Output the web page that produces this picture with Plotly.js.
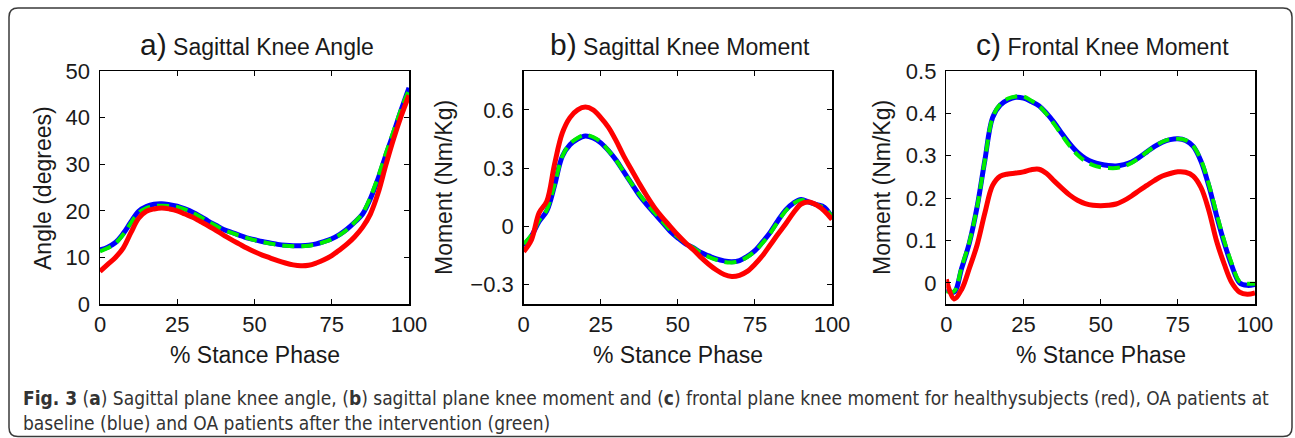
<!DOCTYPE html>
<html>
<head>
<meta charset="utf-8">
<script src="https://cdn.plot.ly/plotly-3.0.1.min.js"></script>
<style>
html,body{margin:0;padding:0;background:#fff;}
#chart{width:1295px;height:438px;}
</style>
</head>
<body>
<div id="chart"></div>
<script>
// ---------- data ----------
const stance = [0,2.5,5,7.5,10,12.5,15,17.5,20,22.5,25,27.5,30,32.5,35,37.5,40,42.5,45,47.5,50,
                52.5,55,57.5,60,62.5,65,67.5,70,72.5,75,77.5,80,82.5,85,87.5,90,92.5,95,97.5,100];

// a) Sagittal knee angle (degrees)
const angleHealthy = [7.0,8.5,10.0,12.0,15.3,18.4,19.9,20.4,20.6,20.4,20.0,19.3,18.6,17.7,16.8,15.8,14.8,13.8,12.9,12.0,11.2,
                      10.5,9.9,9.3,8.8,8.4,8.2,8.3,8.8,9.5,10.4,11.6,12.9,14.5,16.5,19.3,23.8,29.8,35.4,40.4,44.8];
const angleBaseline = [11.6,12.2,13.2,15.1,17.6,19.9,20.9,21.4,21.5,21.3,21.0,20.4,19.7,18.8,17.8,16.9,16.0,15.4,14.8,14.2,13.8,
                       13.4,13.1,12.8,12.6,12.5,12.5,12.6,12.9,13.4,14.0,14.9,16.1,17.6,19.3,22.6,26.9,31.9,36.7,41.7,46.4];
const angleAfter = [11.3,12.0,13.0,14.9,17.4,19.6,20.6,21.0,21.1,21.0,20.8,20.3,19.6,18.7,17.7,16.8,15.9,15.3,14.7,14.2,13.7,
                    13.3,13.0,12.7,12.5,12.4,12.4,12.5,12.8,13.3,13.9,14.8,16.0,17.6,19.5,22.9,27.3,32.3,37.1,41.9,46.0];

// b) Sagittal knee moment (Nm/Kg)
const sagHealthy = [-0.13,-0.07,0.07,0.13,0.32,0.48,0.56,0.60,0.614,0.60,0.56,0.51,0.44,0.36,0.29,0.22,0.155,0.095,0.045,0.0,-0.045,
                    -0.085,-0.12,-0.16,-0.195,-0.225,-0.248,-0.258,-0.252,-0.232,-0.195,-0.15,-0.095,-0.04,0.013,0.07,0.115,0.125,0.11,0.08,0.035];
const sagBaseline = [-0.10,-0.05,0.025,0.08,0.21,0.36,0.42,0.45,0.465,0.455,0.43,0.39,0.34,0.28,0.22,0.16,0.11,0.065,0.02,-0.025,-0.06,
                     -0.09,-0.11,-0.135,-0.152,-0.168,-0.178,-0.182,-0.176,-0.155,-0.125,-0.08,-0.03,0.03,0.085,0.12,0.138,0.125,0.112,0.098,0.045];
const sagAfter = [-0.09,-0.045,0.03,0.085,0.215,0.36,0.425,0.455,0.47,0.46,0.435,0.39,0.34,0.28,0.22,0.165,0.115,0.07,0.025,-0.02,-0.055,
                  -0.085,-0.11,-0.137,-0.157,-0.172,-0.183,-0.186,-0.178,-0.158,-0.128,-0.085,-0.035,0.025,0.08,0.118,0.135,0.125,0.11,0.095,0.048];

// c) Frontal knee moment (Nm/Kg)
const froHealthy = [0.008,-0.038,-0.015,0.035,0.09,0.165,0.23,0.252,0.257,0.259,0.262,0.267,0.268,0.258,0.24,0.223,0.207,0.195,0.187,0.183,0.182,
                    0.183,0.186,0.194,0.205,0.218,0.23,0.242,0.252,0.258,0.262,0.261,0.252,0.225,0.172,0.10,0.045,0.0,-0.022,-0.027,-0.024];
const froBaseline = [-0.016,-0.022,0.035,0.095,0.18,0.29,0.39,0.42,0.432,0.438,0.436,0.428,0.418,0.40,0.378,0.352,0.328,0.308,0.294,0.285,0.28,
                     0.277,0.276,0.279,0.285,0.296,0.309,0.322,0.332,0.338,0.34,0.336,0.322,0.287,0.23,0.16,0.095,0.04,0.0,-0.006,-0.004];
const froAfter = [-0.02,-0.02,0.038,0.097,0.18,0.29,0.39,0.422,0.435,0.44,0.44,0.43,0.418,0.398,0.374,0.348,0.323,0.302,0.287,0.278,0.273,
                  0.271,0.271,0.275,0.283,0.295,0.309,0.322,0.333,0.339,0.34,0.337,0.323,0.29,0.234,0.165,0.1,0.045,0.003,-0.002,-0.002];

const xTicks = [0,25,50,75,100];
const angleTicks = [0,10,20,30,40,50];
const sagTicks = [-0.3,0,0.3,0.6];
const froTicks = [0,0.1,0.2,0.3,0.4,0.5];

const panelLetters = ['a)','b)','c)'];
const panelTitles = ['Sagittal Knee Angle','Sagittal Knee Moment','Frontal Knee Moment'];
const yTitles = ['Angle (degrees)','Moment (Nm/Kg)','Moment (Nm/Kg)'];
const xTitle = '% Stance Phase';
const captionLine1 = '<b>Fig. 3</b> (<b>a</b>) Sagittal plane knee angle, (<b>b</b>) sagittal plane knee moment and (<b>c</b>) frontal plane knee moment for healthysubjects (red), OA patients at';
const captionLine2 = 'baseline (blue) and OA patients after the intervention (green)';

// ---------- layout helpers ----------
const W = 1295, H = 438;
const px = x => x / W;
const py = y => 1 - y / H;
const FONT = 'Liberation Sans, Arial, Helvetica, sans-serif';
const TXT = '#1a1a1a';

const plotTop = 71, plotBottom = 304;
const panels = [
  {x0:100,   x1:409,  yr:[0,50],       yt:angleTicks, ylab:43,  data:[angleBaseline, angleAfter, angleHealthy]},
  {x0:523.7, x1:832,  yr:[-0.4,0.8],   yt:sagTicks,   ylab:444, data:[sagBaseline, sagAfter, sagHealthy]},
  {x0:946.3, x1:1255, yr:[-0.05,0.5],  yt:froTicks,   ylab:882, data:[froBaseline, froAfter, froHealthy]}
];

const traces = [];
const layout = {
  width: W, height: H,
  margin: {l:0, r:0, t:0, b:0},
  paper_bgcolor: '#fff', plot_bgcolor: '#fff',
  showlegend: false,
  font: {family: FONT, color: TXT},
  annotations: [],
  shapes: []
};

const styles = [
  {color:'#0000ff', width:5, dash:'solid'},
  {color:'#00ee00', width:4, dash:'12px,7px'},
  {color:'#ff0000', width:5, dash:'solid'}
];

panels.forEach((p, i) => {
  const xa = i === 0 ? 'xaxis' : 'xaxis' + (i + 1);
  const ya = i === 0 ? 'yaxis' : 'yaxis' + (i + 1);
  const xr = i === 0 ? 'x' : 'x' + (i + 1);
  const yr = i === 0 ? 'y' : 'y' + (i + 1);
  p.data.forEach((vals, k) => {
    traces.push({
      x: stance, y: vals, xaxis: xr, yaxis: yr,
      type: 'scatter', mode: 'lines',
      line: {color: styles[k].color, width: styles[k].width, dash: styles[k].dash, shape: 'spline', smoothing: 1},
      hoverinfo: 'skip'
    });
  });
  const common = {
    showline: true, linecolor: '#000', linewidth: 1.5, mirror: 'ticks',
    ticks: 'inside', ticklen: 5, tickwidth: 1, tickcolor: '#000',
    showgrid: false, zeroline: false, fixedrange: true,
    tickfont: {family: FONT, size: 22, color: TXT}
  };
  layout[xa] = Object.assign({}, common, {
    domain: [px(p.x0), px(p.x1)], range: [0, 100], anchor: yr,
    tickmode: 'array', tickvals: xTicks, ticktext: xTicks.map(String)
  });
  layout[ya] = Object.assign({}, common, {
    domain: [py(plotBottom), py(plotTop)], range: p.yr, anchor: xr,
    tickmode: 'array', tickvals: p.yt, ticklabelstandoff: 4
  });
  const cx = (p.x0 + p.x1) / 2;
  layout.annotations.push({
    xref: 'paper', yref: 'paper', x: px(cx + 2), y: py(44), xanchor: 'center', yanchor: 'middle',
    text: '<span style="font-size:30px">' + panelLetters[i] + '</span> ' + panelTitles[i],
    showarrow: false, font: {family: FONT, size: 23, color: TXT}
  });
  layout.annotations.push({
    xref: 'paper', yref: 'paper', x: px(cx), y: py(355), xanchor: 'center', yanchor: 'middle',
    text: xTitle, showarrow: false, font: {family: FONT, size: 23, color: TXT}
  });
  layout.annotations.push({
    xref: 'paper', yref: 'paper', x: px(p.ylab), y: py(188), xanchor: 'center', yanchor: 'middle',
    text: yTitles[i], textangle: -90, showarrow: false, font: {family: FONT, size: 23, color: TXT}
  });
});

// caption
const CAPFONT = 'DejaVu Sans Condensed, Liberation Sans Narrow, Arial Narrow, sans-serif';
layout.annotations.push({
  xref: 'paper', yref: 'paper', x: px(21), y: py(398), xanchor: 'left', yanchor: 'middle',
  text: captionLine1, showarrow: false, font: {family: CAPFONT, size: 19, color: '#333'}
});
layout.annotations.push({
  xref: 'paper', yref: 'paper', x: px(21), y: py(423), xanchor: 'left', yanchor: 'middle',
  text: captionLine2, showarrow: false, font: {family: CAPFONT, size: 19, color: '#333'}
});

// rounded frame
const fl = 9, fr = 1292, ft = 8, fb = 436.5, rad = 9;
const path = `M ${px(fl+rad)},${py(ft)} L ${px(fr-rad)},${py(ft)} Q ${px(fr)},${py(ft)} ${px(fr)},${py(ft+rad)} ` +
             `L ${px(fr)},${py(fb-rad)} Q ${px(fr)},${py(fb)} ${px(fr-rad)},${py(fb)} ` +
             `L ${px(fl+rad)},${py(fb)} Q ${px(fl)},${py(fb)} ${px(fl)},${py(fb-rad)} ` +
             `L ${px(fl)},${py(ft+rad)} Q ${px(fl)},${py(ft)} ${px(fl+rad)},${py(ft)} Z`;
layout.shapes.push({type: 'path', xref: 'paper', yref: 'paper', path: path, line: {color: '#3a3a3a', width: 1.5}, layer: 'below'});

Plotly.newPlot('chart', traces, layout, {displayModeBar: false, staticPlot: true});
</script>
</body>
</html>
